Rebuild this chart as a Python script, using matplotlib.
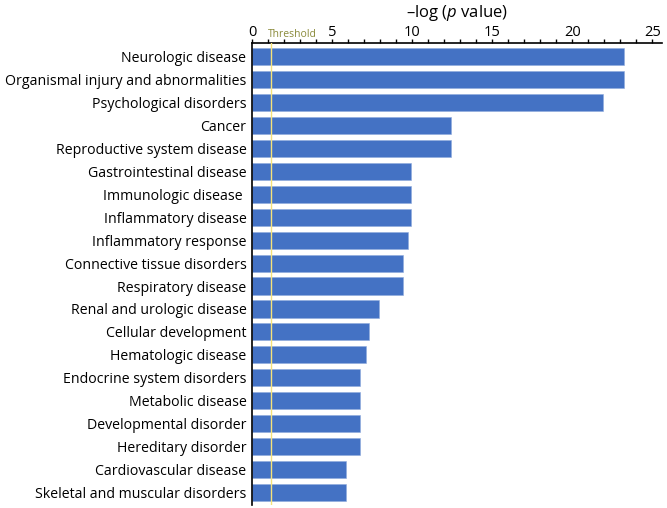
import matplotlib
matplotlib.use('Agg')
import matplotlib.pyplot as plt
from matplotlib.ticker import MultipleLocator

categories = [
    'Neurologic disease',
    'Organismal injury and abnormalities',
    'Psychological disorders',
    'Cancer',
    'Reproductive system disease',
    'Gastrointestinal disease',
    'Immunologic disease ',
    'Inflammatory disease',
    'Inflammatory response',
    'Connective tissue disorders',
    'Respiratory disease',
    'Renal and urologic disease',
    'Cellular development',
    'Hematologic disease',
    'Endocrine system disorders',
    'Metabolic disease',
    'Developmental disorder',
    'Hereditary disorder',
    'Cardiovascular disease',
    'Skeletal and muscular disorders',
]
neg_log_p = [23.25, 23.25, 21.9, 12.4, 12.4, 9.9, 9.9, 9.9, 9.75, 9.4, 9.4,
             7.9, 7.3, 7.1, 6.75, 6.75, 6.75, 6.75, 5.9, 5.9]
threshold = 1.2

plt.rcParams['font.family'] = ['Open Sans', 'DejaVu Sans']
plt.rcParams['mathtext.fontset'] = 'custom'
plt.rcParams['mathtext.it'] = 'Open Sans:italic'
plt.rcParams['mathtext.rm'] = 'Open Sans'

fig = plt.figure(figsize=(6.67, 5.08), dpi=100)
ax = fig.add_axes([252 / 667, 3 / 508, 410 / 667, 462 / 508])

ypos = list(range(len(categories)))
ax.barh(ypos, neg_log_p, height=0.75, color='#4472C4', edgecolor='#8faadc', linewidth=0.4, zorder=2)
ax.axvline(threshold, color='#f5e27a', linewidth=1.0, zorder=3)

ax.set_xlim(0, 25.6)
ax.set_ylim(19.55, -0.6)
ax.set_yticks(ypos)
ax.set_yticklabels(categories, fontsize=10.2)
ax.tick_params(axis='y', length=0, pad=4)

ax.xaxis.tick_top()
ax.xaxis.set_major_locator(MultipleLocator(5))
ax.xaxis.set_minor_locator(MultipleLocator(1))
ax.tick_params(axis='x', which='both', direction='out', length=3, width=1, labelsize=10.5, pad=-0.5)

for side in ['right', 'bottom']:
    ax.spines[side].set_visible(False)
ax.spines['top'].set_linewidth(1.2)
ax.spines['left'].set_linewidth(1.2)

# axis title sits well above the tick labels
fig.text(457 / 667, 1 - 13 / 508, r'–log ($p$ value)', ha='center', va='center', fontsize=12)

ax.text(2.53, 1.013, 'Threshold', transform=ax.get_xaxis_transform(),
        ha='center', va='baseline', fontsize=7.5, color='#8a8a3a')

fig.savefig('out.png', dpi=100)
